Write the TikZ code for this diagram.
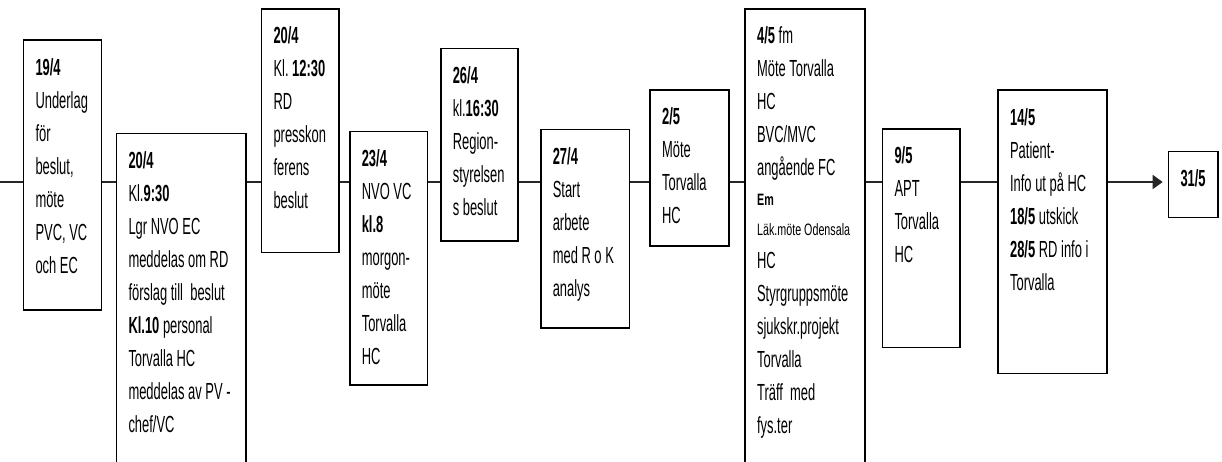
\documentclass[tikz,border=0pt]{standalone}
\usepackage{fontspec}
\setmainfont{Liberation Sans}[FakeStretch=0.555]
\newfontfamily\smallfam{Liberation Sans}[FakeStretch=0.65]
\usetikzlibrary{arrows.meta}
\newcommand{\evtfont}{\fontsize{23.3}{33}\selectfont}
\newcommand{\smallfnt}{\smallfam\fontsize{16.5}{22}\selectfont\spaceskip=3pt\relax}
\begin{document}
\begin{tikzpicture}[x=1pt,y=-1pt,
	evt/.style={draw,line width=1.6pt,anchor=north west,inner xsep=12pt,inner ysep=0pt,
		align=left,text height=35pt,font=\evtfont,
		execute at begin node={\spaceskip=3.6pt\xspaceskip=3.6pt\relax}},
	link/.style={line width=1.6pt,draw=black!85}]
	\useasboundingbox (0,0) rectangle (1222,462);

	%boxes
	\node[evt,text width=54pt,text depth=235pt] (b1) at (22.7,39.3)
		{\textbf{19/4}\\Underlag\\för\\beslut,\\möte\\PVC, VC\\och EC};
	\node[evt,text width=105.6pt,text depth=313pt] (b2) at (115.7,132.7)
		{\textbf{20/4}\\Kl.\textbf{9:30}\\Lgr NVO EC\\meddelas om RD\\förslag till\ \ beslut\\\textbf{Kl.10} personal\\Torvalla HC\\meddelas av PV -\\chef/VC};
	\node[evt,text width=53.6pt,text depth=208.7pt] (b3) at (260.7,8)
		{\textbf{20/4}\\Kl. \textbf{12:30}\\RD\\presskon\\ferens\\beslut};
	\node[evt,text width=53.7pt,text depth=218.6pt] (b4) at (349,130.7)
		{\textbf{23/4}\\NVO VC\\\textbf{kl.8}\\morgon-\\möte\\Torvalla\\HC};
	\node[evt,text width=53.3pt,text depth=157.3pt] (b5) at (440,47.7)
		{\textbf{26/4}\\kl.\textbf{16:30}\\Region-\\styrelsen\\s beslut};
	\node[evt,text width=64.7pt,text depth=163.6pt] (b6) at (540,128.7)
		{\textbf{27/4}\\Start\\arbete\\med R o K\\analys};
	\node[evt,text width=55pt,text depth=121.3pt] (b7) at (649.3,89)
		{\textbf{2/5}\\Möte\\Torvalla\\HC};
	\node[evt,text width=95.7pt,text depth=440pt] (b8) at (744.3,8)
		{\textbf{4/5} fm\\Möte Torvalla\\HC\\BVC/MVC\\angående FC\\[-3pt]\mbox{\smallfnt\textbf{Em}}\\[-3pt]\mbox{\smallfnt Läk.möte Odensala}\\HC\\Styrgruppsmöte\\sjukskr.projekt\\Torvalla\\Träff\ \ med\\fys.ter}; %long day
	\node[evt,text width=53.6pt,text depth=183.7pt] (b9) at (881.7,128)
		{\textbf{9/5}\\APT\\Torvalla\\HC};
	\node[evt,text width=84.7pt,text depth=248.4pt] (b10) at (997.3,89.3)
		{\textbf{14/5}\\Patient-\\Info ut på HC\\\textbf{18/5} utskick\\\textbf{28/5} RD info i\\Torvalla};
	\node[evt,text width=25.6pt,text depth=31pt] (b11) at (1167.7,150.7)
		{\textbf{31/5}};

	%time line
	\coordinate (start) at (0,182);
	\draw[link] (start) -- (b1.west |- start);
	\draw[link] (b1.east |- start) -- (b2.west |- start);
	\draw[link] (b2.east |- start) -- (b3.west |- start);
	\draw[link] (b3.east |- start) -- (b4.west |- start);
	\draw[link] (b4.east |- start) -- (b5.west |- start);
	\draw[link] (b5.east |- start) -- (b6.west |- start);
	\draw[link] (b6.east |- start) -- (b7.west |- start);
	\draw[link] (b7.east |- start) -- (b8.west |- start);
	\draw[link] (b8.east |- start) -- (b9.west |- start);
	\draw[link] (b9.east |- start) -- (b10.west |- start);
	\draw[link,-{Triangle[length=10pt,width=14pt]},shorten >=5pt] (b10.east |- start) -- (b11.west |- start); %last step
\end{tikzpicture}
\end{document}
